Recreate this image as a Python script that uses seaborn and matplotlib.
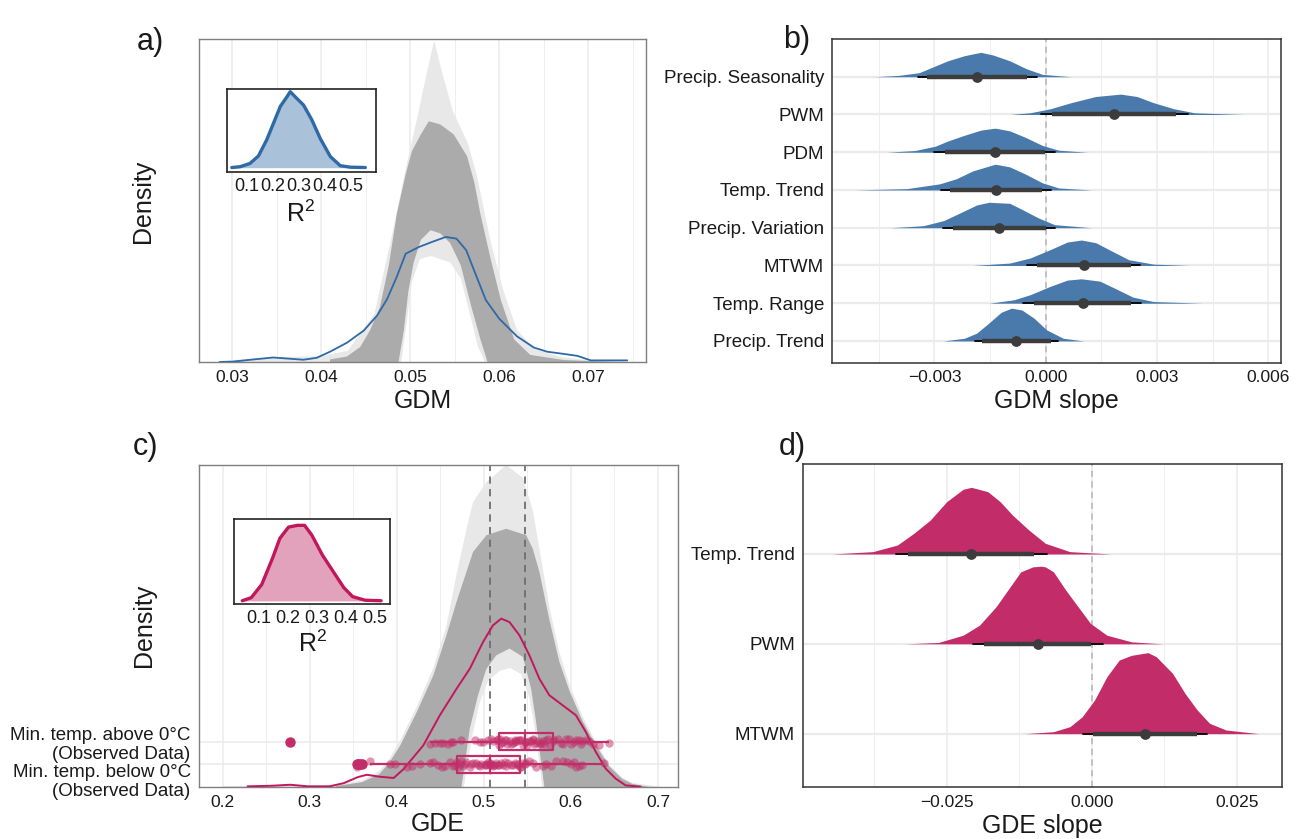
import numpy as np
import pandas as pd
import matplotlib
matplotlib.use("Agg")
import matplotlib.pyplot as plt
import seaborn as sns

sns.set_theme(style="white")
plt.rcParams["font.family"] = ["Liberation Sans", "DejaVu Sans"]
plt.rcParams["mathtext.fontset"] = "custom"
plt.rcParams["mathtext.rm"] = "Liberation Sans"
plt.rcParams["mathtext.it"] = "Liberation Sans:italic"
np.random.seed(7)

# ---------------- a) GDM posterior predictive check ----------------
GDM_OBS_X = [0.0286, 0.0300, 0.0324, 0.0346, 0.0361, 0.0380, 0.0395, 0.0410, 0.0429, 0.0448,
             0.0463, 0.0474, 0.0485, 0.0495, 0.0510, 0.0525, 0.0540, 0.0552, 0.0563, 0.0574,
             0.0585, 0.0600, 0.0620, 0.0639, 0.0654, 0.0673, 0.0688, 0.0703, 0.0744]
GDM_OBS_Y = [0.0, 0.1, 0.8, 1.4, 1.1, 0.7, 1.3, 3.2, 6.0, 9.8,
             14.5, 19.5, 26.5, 33.7, 35.8, 37.4, 38.9, 38.4, 34.8, 27.0,
             19.3, 13.5, 8.0, 4.5, 3.2, 2.5, 1.9, 0.5, 0.5]
# envelope of the replicated densities (dense core and faint outliers)
GDM_DENSE_UP_X = [0.0410, 0.0429, 0.0444, 0.0455, 0.0466, 0.0476, 0.0485, 0.0495, 0.0502, 0.0512, 0.0521,
                  0.0534, 0.0549, 0.0564, 0.0572, 0.0579, 0.0590, 0.0602, 0.0617, 0.0635, 0.0673, 0.0729]
GDM_DENSE_UP_Y = [0.8, 1.7, 4.7, 9.9, 17.0, 30.0, 46.0, 58.4, 65.6, 70.8, 74.9,
                  73.9, 70.8, 64.0, 56.0, 46.0, 32.6, 19.2, 7.0, 2.2, 0.6, 0.0]
GDM_DENSE_LO_X = [0.0487, 0.0493, 0.0498, 0.0504, 0.0512, 0.0523, 0.0534, 0.0545, 0.0557, 0.0568, 0.0579, 0.0587]
GDM_DENSE_LO_Y = [0, 10, 22, 31, 38, 41, 40, 37, 30, 18, 7, 0]
GDM_FAINT_UP_X = [0.0286, 0.0350, 0.0400, 0.0430, 0.0460, 0.0480, 0.0495, 0.0508, 0.0518, 0.0527, 0.0536,
                  0.0548, 0.0565, 0.0575, 0.0590, 0.0605, 0.0620, 0.0640, 0.0670, 0.0705, 0.0745]
GDM_FAINT_UP_Y = [0.3, 1.5, 1.8, 3.5, 15, 40, 60, 76, 89, 100, 90,
                  78, 68, 58, 38, 22, 10, 4, 1.5, 0.5, 0.0]
GDM_FAINT_LO_X = [0.0490, 0.0496, 0.0502, 0.0511, 0.0523, 0.0534, 0.0545, 0.0557, 0.0568, 0.0576, 0.0584]
GDM_FAINT_LO_Y = [0, 12, 25, 32, 33, 32, 31, 26, 14, 5, 0]

R2_GDM_X = [0.043, 0.075, 0.113, 0.145, 0.177, 0.203, 0.229, 0.254, 0.267, 0.286,
            0.318, 0.350, 0.382, 0.421, 0.459, 0.498, 0.555]
R2_GDM_Y = [0.01, 0.06, 0.26, 0.71, 1.69, 2.70, 3.71, 4.28, 4.60, 4.29,
            3.79, 2.89, 1.77, 0.67, 0.12, 0.03, 0.01]

# ---------------- b) GDM slopes ----------------
GDM_VARS = ["Precip. Seasonality", "PWM", "PDM", "Temp. Trend",
            "Precip. Variation", "MTWM", "Temp. Range", "Precip. Trend"]
GDM_SLAB_X = [
    [-0.00463, -0.00396, -0.00341, -0.00308, -0.00264, -0.00219, -0.00175, -0.00142, -0.00097, -0.00053, -0.00009, 0.00069],
    [-0.00097, -0.00042, 0.00013, 0.00069, 0.00135, 0.00202, 0.00246, 0.00290, 0.00345, 0.00401, 0.00534],
    [-0.00430, -0.00352, -0.00297, -0.00264, -0.00219, -0.00175, -0.00136, -0.00097, -0.00053, -0.00009, 0.00035, 0.00113],
    [-0.00518, -0.00374, -0.00286, -0.00241, -0.00197, -0.00136, -0.00097, -0.00053, -0.00009, 0.00035, 0.00124],
    [-0.00418, -0.00330, -0.00275, -0.00230, -0.00186, -0.00153, -0.00097, -0.00064, -0.00020, 0.00024, 0.00124],
    [-0.00197, -0.00097, -0.00042, 0.00013, 0.00058, 0.00096, 0.00135, 0.00179, 0.00224, 0.00290, 0.00390],
    [-0.00153, -0.00086, -0.00042, 0.00013, 0.00058, 0.00096, 0.00146, 0.00190, 0.00235, 0.00290, 0.00423],
    [-0.00275, -0.00219, -0.00186, -0.00153, -0.00120, -0.00092, -0.00064, -0.00031, 0.00002, 0.00047, 0.00102],
]
GDM_SLAB_H = [
    [0, 0.036, 0.108, 0.243, 0.423, 0.558, 0.647, 0.576, 0.423, 0.216, 0.063, 0],
    [0, 0.045, 0.153, 0.315, 0.477, 0.540, 0.477, 0.315, 0.153, 0.045, 0],
    [0, 0.045, 0.162, 0.297, 0.450, 0.585, 0.638, 0.567, 0.387, 0.180, 0.054, 0],
    [0, 0.036, 0.162, 0.297, 0.504, 0.683, 0.612, 0.414, 0.189, 0.054, 0],
    [0, 0.054, 0.189, 0.396, 0.603, 0.674, 0.647, 0.486, 0.261, 0.081, 0],
    [0, 0.063, 0.198, 0.423, 0.620, 0.674, 0.603, 0.378, 0.153, 0.036, 0],
    [0, 0.090, 0.225, 0.450, 0.612, 0.647, 0.585, 0.378, 0.162, 0.045, 0],
    [0, 0.072, 0.207, 0.477, 0.760, 0.870, 0.820, 0.600, 0.297, 0.072, 0],
]
GDM_LO95 = [-0.00343, -0.00014, -0.00300, -0.00282, -0.00277, -0.00050, -0.00061, -0.00191]
GDM_LO66 = [-0.00319, 0.00016, -0.00272, -0.00258, -0.00250, -0.00023, -0.00031, -0.00171]
GDM_MED = [-0.00186, 0.00183, -0.00136, -0.00134, -0.00125, 0.00102, 0.00100, -0.00081]
GDM_HI66 = [-0.00050, 0.00351, -0.00003, -0.00011, 0.00002, 0.00229, 0.00229, 0.00014]
GDM_HI95 = [-0.00023, 0.00384, 0.00024, 0.00013, 0.00024, 0.00254, 0.00257, 0.00032]

# ---------------- c) GDE posterior predictive check ----------------
GDE_OBS_X = [0.2286, 0.2573, 0.2777, 0.2982, 0.3227, 0.3391, 0.3555, 0.3657, 0.3800, 0.3964,
             0.4075, 0.4304, 0.4495, 0.4686, 0.4838, 0.4990, 0.5104, 0.5200, 0.5295, 0.5409,
             0.5523, 0.5638, 0.5752, 0.5904, 0.6057, 0.6171, 0.6286, 0.6400, 0.6514, 0.6629, 0.6800]
GDE_OBS_Y = [0.2, 0.4, 0.7, 0.2, 0.2, 1.2, 3.1, 3.8, 3.2, 2.8,
             5.5, 12.9, 22.3, 30.5, 36.7, 45.0, 50.2, 52.3, 51.2, 47.1,
             40.9, 33.6, 28.5, 25.4, 22.3, 17.1, 10.9, 5.7, 2.6, 0.5, 0.1]
GDE_DENSE_UP_X = [0.330, 0.360, 0.380, 0.392, 0.404, 0.423, 0.442, 0.457, 0.4686, 0.480, 0.4876, 0.503, 0.5257,
                  0.5486, 0.5562, 0.5638, 0.5752, 0.5866, 0.5981, 0.6133, 0.6286, 0.6438, 0.659, 0.6704, 0.690]
GDE_DENSE_UP_Y = [0.3, 1.5, 4.0, 7.8, 12.9, 23.3, 34.7, 47.1, 57.5, 66.8, 73.0, 78.2, 80.2,
                  78.2, 74.0, 66.8, 52.0, 39.0, 30.0, 20.5, 13.0, 6.5, 2.5, 1.0, 0.0]
GDE_DENSE_LO_X = [0.4743, 0.4838, 0.4933, 0.5029, 0.5143, 0.5295, 0.5448, 0.5543, 0.5600, 0.5657, 0.5695]
GDE_DENSE_LO_Y = [0, 18.1, 28.5, 36.7, 40.9, 43.0, 40.4, 30.5, 20.2, 7.8, 0]
GDE_FAINT_UP_X = [0.200, 0.250, 0.300, 0.330, 0.360, 0.380, 0.392, 0.404, 0.423, 0.442, 0.457, 0.4686, 0.480, 0.4876,
                  0.503, 0.5257, 0.5448, 0.5562, 0.5638, 0.5752, 0.5866, 0.5981, 0.6133, 0.6286, 0.6438, 0.659,
                  0.6704, 0.6967, 0.705]
GDE_FAINT_UP_Y = [0.3, 0.4, 0.5, 0.8, 2.0, 5.0, 9.0, 14.5, 25, 37, 50, 66, 80, 88.5,
                  94.7, 100, 96, 86, 74, 56, 42, 32, 22, 14, 7, 3,
                  1.3, 0.3, 0.0]
GDE_FAINT_LO_X = [0.477, 0.486, 0.495, 0.505, 0.518, 0.530, 0.543, 0.552, 0.558, 0.564, 0.567]
GDE_FAINT_LO_Y = [0, 15, 26, 33, 36, 37, 35, 28, 19, 7, 0]

# observed GDE values per group
GDE_ABOVE = [0.277, 0.4381, 0.4438, 0.4495, 0.4533, 0.459, 0.4628, 0.4647, 0.4742, 0.4895, 0.4952, 0.499,
             0.5047, 0.5085, 0.5105, 0.515, 0.5162, 0.517, 0.519, 0.52, 0.5219, 0.524, 0.5257, 0.527,
             0.5295, 0.5314, 0.5333, 0.5352, 0.536, 0.5371, 0.539, 0.541, 0.5428, 0.545, 0.547, 0.5486,
             0.550, 0.5524, 0.5543, 0.556, 0.5562, 0.558, 0.560, 0.5619, 0.564, 0.5657, 0.568, 0.5695,
             0.571, 0.5733, 0.576, 0.579, 0.581, 0.5847, 0.5886, 0.5905, 0.5943, 0.5981, 0.600, 0.6038,
             0.6057, 0.6095, 0.6114, 0.6133, 0.6171, 0.621, 0.6248, 0.6324, 0.6438]
GDE_BELOW = [0.354, 0.356, 0.358, 0.3595, 0.3695, 0.3923, 0.398, 0.4114, 0.4171, 0.4266, 0.4381, 0.4419,
             0.4476, 0.4514, 0.4552, 0.461, 0.4647, 0.4666, 0.4686, 0.470, 0.4724, 0.4742, 0.476, 0.4781,
             0.480, 0.484, 0.4857, 0.4876, 0.4914, 0.4933, 0.495, 0.4971, 0.5009, 0.502, 0.5029, 0.5047,
             0.5067, 0.507, 0.5085, 0.5105, 0.511, 0.5124, 0.5143, 0.5162, 0.517, 0.520, 0.522, 0.5238,
             0.526, 0.5276, 0.531, 0.534, 0.5352, 0.538, 0.539, 0.541, 0.5428, 0.5448, 0.547, 0.5486,
             0.552, 0.557, 0.560, 0.5676, 0.571, 0.5771, 0.583, 0.5905, 0.595, 0.600, 0.6038, 0.6057,
             0.6095, 0.6133, 0.638]
GROUP_LABELS = ["Min. temp. above 0\u00b0C\n(Observed Data)", "Min. temp. below 0\u00b0C\n(Observed Data)"]

R2_GDE_X = [0.045, 0.076, 0.112, 0.149, 0.174, 0.204, 0.235, 0.259, 0.284, 0.320, 0.357, 0.394, 0.424, 0.467, 0.522]
R2_GDE_Y = [0.01, 0.19, 0.96, 2.49, 3.64, 4.30, 4.40, 4.40, 3.83, 2.68, 1.72, 0.77, 0.25, 0.04, 0.01]

# ---------------- d) GDE slopes ----------------
GDE_VARS = ["Temp. Trend", "PWM", "MTWM"]
GDE_SLAB_X = [
    [-0.04483, -0.03775, -0.0335, -0.03067, -0.02783, -0.025, -0.02217, -0.02075, -0.01792, -0.01579,
     -0.01367, -0.01084, -0.008, -0.00375, 0.00333],
    [-0.03208, -0.02642, -0.02217, -0.01934, -0.0165, -0.01367, -0.01225, -0.01013, -0.00871, -0.008,
     -0.00659, -0.00446, -0.00234, -0.00021, 0.00262, 0.00687, 0.01218],
    [-0.01154, -0.00659, -0.00375, -0.00163, 0.0005, 0.00262, 0.00475, 0.00687, 0.0097, 0.01112,
     0.01395, 0.01608, 0.0182, 0.02033, 0.02316, 0.02883],
]
GDE_SLAB_H = [
    [0, 0.026, 0.100, 0.230, 0.378, 0.583, 0.720, 0.742, 0.694, 0.583, 0.434, 0.267, 0.119, 0.026, 0],
    [0, 0.015, 0.096, 0.208, 0.412, 0.671, 0.801, 0.857, 0.864, 0.857, 0.801, 0.597, 0.412, 0.227, 0.096, 0.022, 0],
    [0, 0.022, 0.078, 0.189, 0.375, 0.634, 0.820, 0.872, 0.902, 0.857, 0.671, 0.449, 0.263, 0.115, 0.041, 0],
]
GDE_LO95 = [-0.0337, -0.02054, -0.00142]
GDE_LO66 = [-0.0316, -0.01863, 0.00014]
GDE_MED = [-0.02075, -0.00928, 0.00921]
GDE_HI66 = [-0.0100, -0.00007, 0.0182]
GDE_HI95 = [-0.00765, 0.00191, 0.01983]

# ---------------- styling ----------------
W, H = 1303, 839
BLUE = "#4a7aab"
BLUE_LINE = "#2f69a6"
BLUE_LIGHT = "#a9c1d9"
MAG = "#c22d69"
MAG_LINE = "#c2185b"
MAG_LIGHT = "#e2a2bb"
GRID = "#ebebeb"
GREY_DENSE = "#ababab"
GREY_FAINT = "#e8e8e8"
TXT = "#1a1a1a"

fig = plt.figure(figsize=(W / 100, H / 100), dpi=100, facecolor="white")


def px_axes(left, top, right, bottom):
    return fig.add_axes([left / W, 1 - bottom / H, (right - left) / W, (bottom - top) / H])


def ftext(x, y, s, **kw):
    fig.text(x / W, 1 - y / H, s, color=TXT, **kw)


def style_frame(ax, color, lw):
    for sp in ax.spines.values():
        sp.set_visible(True)
        sp.set_color(color)
        sp.set_linewidth(lw)
    ax.tick_params(axis="both", length=3, width=0.8, color="#333333", pad=2.5,
                   labelsize=12.5, labelcolor=TXT)


def band(ax, up_x, up_y, lo_x, lo_y, color):
    xs = list(up_x) + [up_x[-1]] + list(lo_x[::-1]) + [up_x[0]]
    ys = list(up_y) + [0] + list(lo_y[::-1]) + [0]
    ax.fill(xs, ys, color=color, lw=0, zorder=1)


def vgrid(ax, majors, minors):
    for v in majors:
        ax.axvline(v, color=GRID, lw=1.1, zorder=0)
    for v in minors:
        ax.axvline(v, color=GRID, lw=0.6, zorder=0)


def inset(ax, xs, ys, fill, line, xlim, ylim):
    ax.set_facecolor("white")
    ax.fill_between(xs, 0, ys, color=fill, lw=0, zorder=1)
    sns.lineplot(x=xs, y=ys, color=line, lw=2.4, ax=ax, zorder=2)
    ax.set_xlim(*xlim)
    ax.set_ylim(*ylim)
    ax.set_xticks([0.1, 0.2, 0.3, 0.4, 0.5])
    ax.set_xticklabels(["0.1", "0.2", "0.3", "0.4", "0.5"])
    ax.set_yticks([])
    ax.set_xlabel("")
    ax.set_ylabel("")
    for sp in ax.spines.values():
        sp.set_visible(True)
        sp.set_color("#222222")
        sp.set_linewidth(1.2)
    ax.tick_params(axis="x", length=3, width=0.8, color="#333333", pad=1.5,
                   labelsize=13, labelcolor=TXT)


def halfeye(ax, names, slab_x, slab_h, lo95, lo66, med, hi66, hi95, color):
    n = len(names)
    pos = [n - i for i in range(n)]
    for p in pos:
        ax.axhline(p, color=GRID, lw=1.6, zorder=0)
    for i, p in enumerate(pos):
        xs = np.array(slab_x[i])
        hs = np.array(slab_h[i])
        ax.fill_between(xs, p, p + hs, color=color, lw=0, zorder=2)
        ax.plot([lo95[i], hi95[i]], [p, p], color="black", lw=1.3, zorder=3)
        ax.plot([lo66[i], hi66[i]], [p, p], color="#3c3c3c", lw=3.2,
                solid_capstyle="butt", zorder=4)
    sns.scatterplot(x=med, y=pos, color="#3c3c3c", s=60, linewidth=0, ax=ax, zorder=5)
    ax.set_yticks(pos)
    ax.set_yticklabels(names)
    ax.tick_params(axis="y", labelsize=13.5, pad=3)
    return pos


# ---------------- panel a ----------------
ax_a = px_axes(199, 39, 646, 362)
vgrid(ax_a, [0.03, 0.04, 0.05, 0.06, 0.07], [0.035, 0.045, 0.055, 0.065, 0.075])
band(ax_a, GDM_FAINT_UP_X, GDM_FAINT_UP_Y, GDM_FAINT_LO_X, GDM_FAINT_LO_Y, GREY_FAINT)
band(ax_a, GDM_DENSE_UP_X, GDM_DENSE_UP_Y, GDM_DENSE_LO_X, GDM_DENSE_LO_Y, GREY_DENSE)
sns.lineplot(x=GDM_OBS_X, y=GDM_OBS_Y, color=BLUE_LINE, lw=1.3, ax=ax_a, zorder=3)
ax_a.set_xlim(0.02628, 0.0765)
ax_a.set_ylim(0, 100.5)
ax_a.set_xticks([0.03, 0.04, 0.05, 0.06, 0.07])
ax_a.set_xticklabels(["0.03", "0.04", "0.05", "0.06", "0.07"])
ax_a.set_yticks([])
style_frame(ax_a, "#7f7f7f", 1.0)

ax_ai = px_axes(226.6, 88.7, 375.5, 172)
inset(ax_ai, R2_GDM_X, R2_GDM_Y, BLUE_LIGHT, BLUE_LINE, (0.023, 0.594), (-0.26, 4.78))

# ---------------- panel b ----------------
ax_b = px_axes(831.7, 39, 1281, 362.7)
vgrid(ax_b, [-0.003, 0.0, 0.003, 0.006], [-0.0045, -0.0015, 0.0015, 0.0045])
ax_b.axvline(0, color="#b5b5b5", lw=1.1, ls=(0, (4, 3)), zorder=1)
halfeye(ax_b, GDM_VARS, GDM_SLAB_X, GDM_SLAB_H, GDM_LO95, GDM_LO66, GDM_MED, GDM_HI66, GDM_HI95, BLUE)
ax_b.set_xlim(-0.005768, 0.006342)
ax_b.set_ylim(0.424, 9.0)
ax_b.set_xticks([-0.003, 0.0, 0.003, 0.006])
ax_b.set_xticklabels(["\u22120.003", "0.000", "0.003", "0.006"])
style_frame(ax_b, "#333333", 1.1)
ax_b.tick_params(axis="y", labelsize=13.5)

# ---------------- panel c ----------------
ABOVE_POS = 14.07
BELOW_POS = 7.05
ax_c = px_axes(199, 465, 678, 787)
vgrid(ax_c, [0.2, 0.3, 0.4, 0.5, 0.6, 0.7], [0.25, 0.35, 0.45, 0.55, 0.65])
ax_c.axhline(ABOVE_POS, color=GRID, lw=1.1, zorder=0)
ax_c.axhline(BELOW_POS, color=GRID, lw=1.1, zorder=0)
band(ax_c, GDE_FAINT_UP_X, GDE_FAINT_UP_Y, GDE_FAINT_LO_X, GDE_FAINT_LO_Y, GREY_FAINT)
band(ax_c, GDE_DENSE_UP_X, GDE_DENSE_UP_Y, GDE_DENSE_LO_X, GDE_DENSE_LO_Y, GREY_DENSE)
for m in (np.median(GDE_ABOVE), np.median(GDE_BELOW)):
    ax_c.axvline(m, color="#6e6e6e", lw=1.3, ls=(0, (4, 3)), zorder=2)
sns.lineplot(x=GDE_OBS_X, y=GDE_OBS_Y, color=MAG_LINE, lw=1.4, ax=ax_c, zorder=3)

obs = pd.DataFrame({
    "gde": GDE_ABOVE + GDE_BELOW,
    "row": [ABOVE_POS] * len(GDE_ABOVE) + [BELOW_POS] * len(GDE_BELOW),
})
sns.boxplot(data=obs, x="gde", y="row", orient="h", native_scale=True, width=0.75,
            fill=False, color=MAG, linewidth=1.6, showcaps=False,
            flierprops=dict(marker="o", markersize=6.5, markerfacecolor=MAG,
                            markeredgecolor=MAG), ax=ax_c, zorder=4)
sns.stripplot(data=obs, x="gde", y="row", orient="h", native_scale=True, jitter=0.14,
              color=MAG, alpha=0.5, size=6, linewidth=0, ax=ax_c, zorder=5)
ax_c.set_xlim(0.1728, 0.723)
ax_c.set_ylim(0, 100)
ax_c.set_xticks([0.2, 0.3, 0.4, 0.5, 0.6, 0.7])
ax_c.set_xticklabels(["0.2", "0.3", "0.4", "0.5", "0.6", "0.7"])
ax_c.set_yticks([ABOVE_POS, BELOW_POS])
ax_c.set_yticklabels(GROUP_LABELS)
ax_c.set_xlabel("")
ax_c.set_ylabel("")
style_frame(ax_c, "#7f7f7f", 1.0)
ax_c.tick_params(axis="y", labelsize=13.5, pad=3)
ylabs = ax_c.get_yticklabels()
for lab in ylabs:
    lab.set_linespacing(1.15)
    lab.set_horizontalalignment("right")
ylabs[1].set_verticalalignment("top")

ax_ci = px_axes(234, 519, 390, 604)
inset(ax_ci, R2_GDE_X, R2_GDE_Y, MAG_LIGHT, MAG_LINE, (0.0165, 0.5526), (-0.18, 4.77))

# ---------------- panel d ----------------
ax_d = px_axes(802.7, 463.7, 1281.7, 787.3)
vgrid(ax_d, [-0.025, 0.0, 0.025], [-0.0375, -0.0125, 0.0125])
ax_d.axvline(0, color="#b5b5b5", lw=1.1, ls=(0, (4, 3)), zorder=1)
halfeye(ax_d, GDE_VARS, GDE_SLAB_X, GDE_SLAB_H, GDE_LO95, GDE_LO66, GDE_MED, GDE_HI66, GDE_HI95, MAG)
ax_d.set_xlim(-0.04983, 0.03276)
ax_d.set_ylim(0.403, 4.005)
ax_d.set_xticks([-0.025, 0.0, 0.025])
ax_d.set_xticklabels(["\u22120.025", "0.000", "0.025"])
style_frame(ax_d, "#333333", 1.1)
ax_d.tick_params(axis="y", labelsize=13.5)

# ---------------- titles and labels ----------------
ftext(423, 401, "GDM", fontsize=18, ha="center", va="center")
ftext(1056, 401, "GDM slope", fontsize=18, ha="center", va="center")
ftext(438, 824, "GDE", fontsize=18, ha="center", va="center")
ftext(1042, 826, "GDE slope", fontsize=18, ha="center", va="center")
ftext(143, 201, "Density", fontsize=18, ha="center", va="center", rotation=90)
ftext(144, 625, "Density", fontsize=18, ha="center", va="center", rotation=90)
ftext(301, 214, r"$\mathregular{R^2}$", fontsize=18, ha="center", va="center")
ftext(313, 644, r"$\mathregular{R^2}$", fontsize=18, ha="center", va="center")
ftext(150, 42, "a)", fontsize=22, ha="center", va="center")
ftext(797, 40, "b)", fontsize=22, ha="center", va="center")
ftext(145, 447, "c)", fontsize=22, ha="center", va="center")
ftext(792, 447, "d)", fontsize=22, ha="center", va="center")

fig.savefig("out.png", dpi=100, facecolor="white")
